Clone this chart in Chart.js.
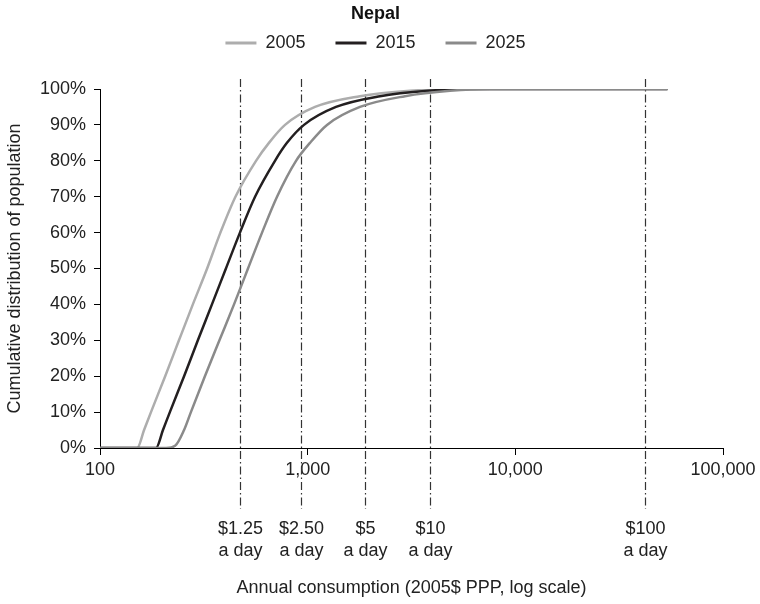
<!DOCTYPE html>
<html>
<head>
<meta charset="utf-8">
<script src="https://cdn.jsdelivr.net/npm/chart.js@4.4.1/dist/chart.umd.min.js"></script>
<style>html,body{margin:0;padding:0;background:#fff}</style>
</head>
<body>
<canvas id="nepalChart" width="760" height="604"></canvas>
<script>
// consumption (2005$ PPP per year) and cumulative share of population (%)
const seriesNames = ['2005', '2015', '2025'];

const cons2005 = [100, 151, 163, 176, 206, 240, 280, 328, 380, 449, 564, 651, 778, 1085, 1786, 3109, 5414, 54000];
const share2005 = [0, 0, 5, 10, 20, 30, 40, 50, 60, 70, 80, 85, 90, 95, 98, 99.5, 100, 100];

const cons2015 = [100, 186, 201, 217, 254, 296, 346, 404, 472, 558, 696, 795, 960, 1369, 2230, 3796, 6049, 54000];
const share2015 = [0, 0, 5, 10, 20, 30, 40, 50, 60, 70, 80, 85, 90, 95, 98, 99.5, 100, 100];

const cons2025 = [100, 208, 230, 254, 274, 320, 376, 442, 516, 603, 712, 879, 1026, 1239, 1786, 2942, 4847, 7551, 54000];
const share2025 = [0, 0, 0.6, 5, 10, 20, 30, 40, 50, 60, 70, 80, 85, 90, 95, 98, 99.5, 100, 100];

// poverty lines, annual equivalent
const povertyLines = [474, 933, 1880, 3870, 42300];
const povertyLabels = ['$1.25', '$2.50', '$5', '$10', '$100'];

const xTicks = [100, 1000, 10000, 100000];
const yTicks = [0, 10, 20, 30, 40, 50, 60, 70, 80, 90, 100];

const colors = ['#adadad', '#231f20', '#8a8a8a'];

Chart.defaults.font.family = '"Liberation Sans", Arial, sans-serif';
Chart.defaults.font.size = 18;
Chart.defaults.color = '#222';

const toPoints = (xs, ys) => xs.map((v, i) => ({x: v, y: ys[i]}));

const povertyLinePlugin = {
  id: 'povertyLines',
  beforeDatasetsDraw(chart) {
    const {ctx, chartArea, scales} = chart;
    ctx.save();
    ctx.strokeStyle = '#333';
    ctx.lineWidth = 1.2;
    ctx.setLineDash([8, 3, 1.5, 3]);
    ctx.font = '18px "Liberation Sans", Arial, sans-serif';
    ctx.fillStyle = '#222';
    ctx.textAlign = 'center';
    ctx.textBaseline = 'middle';
    povertyLines.forEach((v, i) => {
      const px = Math.round(scales.x.getPixelForValue(v)) + 0.5;
      ctx.beginPath();
      ctx.moveTo(px, chartArea.top - 10);
      ctx.lineTo(px, chartArea.bottom + 61);
      ctx.stroke();
      ctx.fillText(povertyLabels[i], px, chartArea.bottom + 81);
      ctx.fillText('a day', px, chartArea.bottom + 103);
    });
    ctx.restore();
  }
};

const ctx = document.getElementById('nepalChart').getContext('2d');
new Chart(ctx, {
  type: 'line',
  data: {
    datasets: [
      {label: seriesNames[0], data: toPoints(cons2005, share2005), borderColor: colors[0], backgroundColor: colors[0], order: 3},
      {label: seriesNames[1], data: toPoints(cons2015, share2015), borderColor: colors[1], backgroundColor: colors[1], order: 2},
      {label: seriesNames[2], data: toPoints(cons2025, share2025), borderColor: colors[2], backgroundColor: colors[2], order: 1}
    ]
  },
  options: {
    responsive: false,
    animation: false,
    devicePixelRatio: 1,
    layout: {padding: {left: 0, right: 9, top: 0, bottom: 0}},
    elements: {
      point: {radius: 0},
      line: {borderWidth: 2.5, cubicInterpolationMode: 'monotone', fill: false}
    },
    scales: {
      x: {
        type: 'logarithmic',
        min: 100,
        max: 100000,
        afterBuildTicks: s => { s.ticks = xTicks.map(v => ({value: v})); },
        afterFit: s => { s.height = 156; },
        ticks: {
          callback: v => Number(v).toLocaleString('en-US'),
          padding: 4,
          maxRotation: 0,
          autoSkip: false
        },
        grid: {drawOnChartArea: false, tickLength: 7, color: '#000'},
        border: {color: '#000', width: 1},
        title: {
          display: true,
          text: 'Annual consumption (2005$ PPP, log scale)',
          padding: {top: 0, bottom: 5}
        }
      },
      y: {
        min: 0,
        max: 100,
        afterBuildTicks: s => { s.ticks = yTicks.map(v => ({value: v})); },
        afterFit: s => { s.width = 100; },
        ticks: {callback: v => v + '%', padding: 8},
        grid: {drawOnChartArea: false, tickLength: 6, color: '#000'},
        border: {color: '#000', width: 1},
        title: {
          display: true,
          text: 'Cumulative distribution of population',
          padding: {top: 4, bottom: 0}
        }
      },
      // empty right-hand strip so the plot ends where the original does
      yRight: {
        position: 'right',
        display: true,
        grid: {display: false},
        ticks: {display: false},
        border: {display: false},
        afterFit: s => { s.width = 28; }
      }
    },
    plugins: {
      title: {
        display: true,
        text: 'Nepal',
        color: '#111',
        font: {size: 18, weight: 'bold'},
        padding: {top: 3.5, bottom: -21.1}
      },
      subtitle: {
        display: true,
        text: '',
        weight: 500,
        font: {size: 10},
        padding: {top: 15, bottom: 0}
      },
      legend: {
        display: true,
        position: 'top',
        labels: {
          boxWidth: 31,
          boxHeight: 3,
          padding: 30,
          sort: (a, b) => a.datasetIndex - b.datasetIndex,
          generateLabels: chart => Chart.defaults.plugins.legend.labels.generateLabels(chart)
            .map(l => Object.assign(l, {lineWidth: 0, fillStyle: l.strokeStyle}))
        }
      },
      tooltip: {enabled: false}
    }
  },
  plugins: [povertyLinePlugin]
});
</script>
</body>
</html>
